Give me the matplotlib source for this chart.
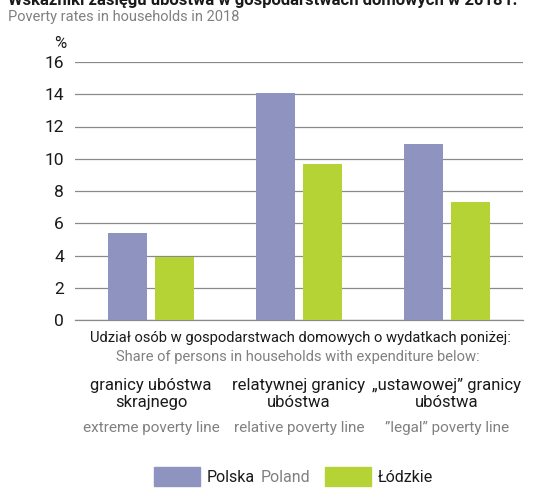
import matplotlib
matplotlib.use('Agg')
import matplotlib.pyplot as plt
from matplotlib.patches import Rectangle
import numpy as np

plt.rcParams['font.family'] = ['Roboto', 'DejaVu Sans']

# data
groups_pl = ['granicy ubóstwa\nskrajnego', 'relatywnej granicy\nubóstwa', '\u201eustawowej\u201d granicy\nubóstwa']
groups_en = ['extreme poverty line', 'relative poverty line', '\u201dlegal\u201d poverty line']
polska = [5.4, 14.1, 10.9]
lodzkie = [3.9, 9.7, 7.3]
yticks = [0, 2, 4, 6, 8, 10, 12, 14, 16]

c_pl = '#8e93c0'
c_ld = '#b5d334'
grey = '#808080'
dark = '#1a1a1a'

W, H = 534, 488
fig = plt.figure(figsize=(W / 100, H / 100), dpi=100)
ax = fig.add_axes([75 / W, 168 / H, 448 / W, 258 / H])

x = np.arange(len(polska))
bw = 0.264
ax.bar(x - 0.159, polska, bw, color=c_pl, zorder=3)
ax.bar(x + 0.159, lodzkie, bw, color=c_ld, zorder=3)

ax.set_xlim(-0.514, 2.514)
ax.set_ylim(0, 16)
ax.set_yticks(yticks)
ax.yaxis.grid(True, color='#8a8a8a', linewidth=0.9, zorder=0)
ax.set_axisbelow(True)
for s in ['top', 'right', 'left']:
    ax.spines[s].set_visible(False)
ax.spines['bottom'].set_color('#8a8a8a')
ax.spines['bottom'].set_linewidth(0.9)
ax.set_xticks([])
ax.tick_params(axis='y', length=0, pad=8, labelsize=12.5, colors=dark)

# titles (top one is clipped by the image edge as in the source)
fig.text(8 / W, 1 - 0 / H, 'Wskaźniki zasięgu ubóstwa w gospodarstwach domowych w 2018 r.',
         fontsize=12, fontweight='bold', ha='left', va='center', color=dark)
fig.text(8 / W, 1 - 17 / H, 'Poverty rates in households in 2018', fontsize=10.5,
         ha='left', va='center', color=grey)
fig.text(60 / W, 1 - 44 / H, '%', fontsize=12, ha='center', va='center', color=dark)

# category captions
fig.text(300 / W, 1 - 338 / H, 'Udział osób w gospodarstwach domowych o wydatkach poniżej:',
         fontsize=10.6, ha='center', va='center', color=dark)
fig.text(298 / W, 1 - 357 / H, 'Share of persons in households with expenditure below:',
         fontsize=10.6, ha='center', va='center', color=grey)
for i in range(len(groups_pl)):
    xf = ax.transData.transform((x[i], 0))[0] / W
    fig.text(xf, 1 - 394 / H, groups_pl[i], fontsize=12, ha='center', va='center',
             color=dark, linespacing=1.2)
    fig.text(xf, 1 - 428 / H, groups_en[i], fontsize=11, ha='center', va='center', color=grey)

# legend
fig.patches.append(Rectangle((154 / W, 1 - 486 / H), 46 / W, 19 / H,
                             transform=fig.transFigure, color=c_pl))
fig.patches.append(Rectangle((325 / W, 1 - 486 / H), 46 / W, 19 / H,
                             transform=fig.transFigure, color=c_ld))
t = fig.text(207 / W, 1 - 477 / H, 'Polska', fontsize=11.5, ha='left', va='center', color=dark)
ax.annotate('Poland', xy=(1, 0.5), xycoords=t, xytext=(4, 0), textcoords='offset points',
            ha='left', va='center', fontsize=11.5, color=grey, annotation_clip=False)
fig.text(378 / W, 1 - 477 / H, 'Łódzkie', fontsize=11.5, ha='left', va='center', color=dark)

fig.savefig('out.png', dpi=100)
